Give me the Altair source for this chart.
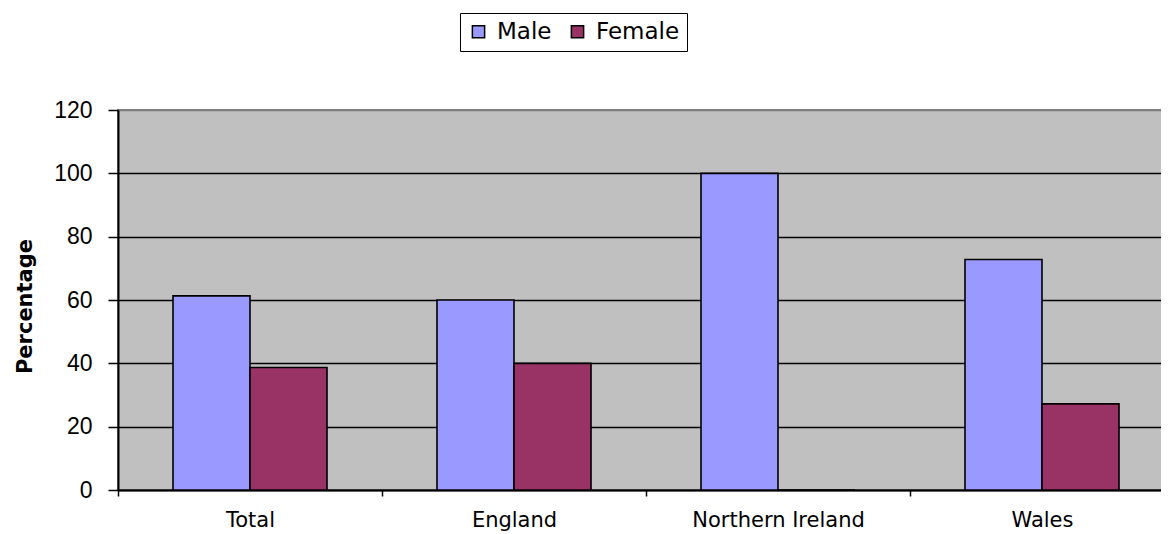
import altair as alt
import pandas as pd

categories = ["Total", "England", "Northern Ireland", "Wales"]
male = [61.3, 60.0, 100.0, 72.8]
female = [38.7, 40.0, 0.0, 27.2]
series = ["Male", "Female"]
colors = ["#9999FF", "#993366"]

rows = []
for c, m, f in zip(categories, male, female):
    rows.append({"category": c, "sex": "Male", "value": m})
    rows.append({"category": c, "sex": "Female", "value": f})
df = pd.DataFrame(rows)

chart = alt.Chart(df).mark_bar(stroke="black", strokeWidth=1.6).encode(
    x=alt.X("category:N", sort=categories,
            scale=alt.Scale(paddingInner=0, paddingOuter=0),
            axis=alt.Axis(title=None, labelAngle=0, tickBand="extent",
                          labelFont="DejaVu Sans", labelFontSize=21, labelColor="black",
                          labelPadding=13, tickSize=6, tickColor="black", tickWidth=1.5,
                          domainColor="black", domainWidth=2, grid=False)),
    xOffset=alt.XOffset("sex:N", sort=series,
                        scale=alt.Scale(paddingInner=0, paddingOuter=0.714)),
    y=alt.Y("value:Q", scale=alt.Scale(domain=[0, 120]),
            axis=alt.Axis(title="Percentage", values=[0, 20, 40, 60, 80, 100, 120],
                          titleFont="DejaVu Sans", titleFontSize=21, titleFontWeight="bold",
                          titleColor="black", titleX=-93, titleY=196, titleAngle=270,
                          titleAlign="center", titleBaseline="middle",
                          labelFont="Liberation Sans", labelFontSize=23, labelColor="black",
                          labelPadding=16, tickSize=10, tickColor="black", tickWidth=1.5,
                          domainColor="black", domainWidth=2,
                          grid=True,
                          gridColor=alt.condition("datum.value == 120",
                                                  alt.value("#808080"), alt.value("black")),
                          gridWidth=1.6)),
    color=alt.Color("sex:N", sort=series,
                    scale=alt.Scale(domain=series, range=colors),
                    legend=alt.Legend(title=None, orient="none", direction="horizontal",
                                      legendX=342, legendY=-97,
                                      symbolType="square", symbolSize=150,
                                      symbolStrokeColor="black", symbolStrokeWidth=1.5,
                                      labelFont="DejaVu Sans", labelFontSize=23,
                                      labelColor="black", columnPadding=14, labelOffset=7,
                                      padding=7, strokeColor="black", fillColor="white")),
).properties(
    width=1056,
    height=380,
    background="white",
    autosize=alt.AutoSizeParams(type="none"),
    padding={"left": 110, "top": 102, "right": -13, "bottom": 42},
).configure_view(
    fill="#C0C0C0", stroke="#808080", strokeWidth=2
)

chart.save("out.html", embed_options={"renderer": "svg", "actions": False})
